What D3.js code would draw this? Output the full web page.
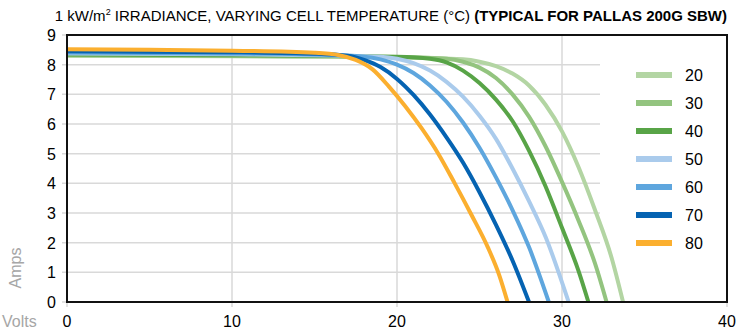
<!DOCTYPE html>
<html>
<head>
<meta charset="utf-8">
<script src="https://cdn.jsdelivr.net/npm/d3@7"></script>
<style>
  body { margin: 0; background: #fff; }
  svg { display: block; font-family: "Liberation Sans", Arial, sans-serif; }
</style>
</head>
<body>
<div class="viz"></div>
<script>
var width = 736,
    height = 333;

var margin = {top: 35, right: 9, bottom: 31, left: 67};

// temperatures (°C) and their colours
var temps = ['20', '30', '40', '50', '60', '70', '80'];
var colors = ['#b3d5a3', '#93c47f', '#58a447', '#aacbec', '#5ea6de', '#0563b2', '#fbaf2f'];

// [volts, amps]
var curve20 = [[0,8.30],[10,8.28],[15,8.27],[20,8.25],[24,8.18],[25,8.1],[26,7.95],[27,7.7],[28,7.3],[29,6.65],[30,5.75],[31,4.55],[32,3.1],[33,1.5],[33.7,0]];
var curve30 = [[0,8.32],[10,8.30],[15,8.28],[20,8.26],[23,8.2],[24,8.1],[25,7.9],[26,7.55],[27,7.0],[28,6.25],[29,5.25],[30,4.05],[31,2.75],[32,1.3],[32.7,0]];
var curve40 = [[0,8.34],[10,8.32],[15,8.30],[20,8.27],[22,8.2],[23,8.08],[24,7.8],[25,7.38],[26,6.82],[27,6.1],[28,5.1],[29,3.9],[30,2.5],[31,1.05],[31.6,0]];
var curve50 = [[0,8.38],[10,8.35],[15,8.32],[19,8.27],[20,8.2],[21,8.05],[22,7.8],[23,7.42],[24,6.92],[25,6.28],[26,5.5],[27,4.5],[28,3.4],[29,2.2],[30.4,0]];
var curve60 = [[0,8.41],[10,8.38],[15,8.34],[18,8.27],[19,8.18],[20,8.0],[21,7.72],[22,7.3],[23,6.75],[24,6.05],[25,5.2],[26,4.2],[27,3.1],[28,1.85],[29.2,0]];
var curve70 = [[0,8.45],[10,8.42],[15,8.37],[17,8.3],[18,8.16],[19,7.92],[20,7.52],[21,6.98],[22,6.32],[23,5.55],[24,4.7],[25,3.7],[26,2.6],[27,1.4],[28,0]];
var curve80 = [[0,8.52],[5,8.50],[10,8.47],[15,8.40],[16.5,8.32],[17.5,8.16],[18.5,7.85],[19.5,7.27],[20.5,6.6],[21.5,5.85],[22.5,5.0],[23.5,4.0],[24.5,2.95],[25.5,1.85],[26.2,0.9],[26.7,0]];

var curves = [curve20, curve30, curve40, curve50, curve60, curve70, curve80];

var xTicks = [0, 10, 20, 30, 40];
var yTicks = [0, 1, 2, 3, 4, 5, 6, 7, 8, 9];

var title = '1 kW/m';
var titleRest = ' IRRADIANCE, VARYING CELL TEMPERATURE (°C) ';
var titleBold = '(TYPICAL FOR PALLAS 200G SBW)';

var svg = d3.select('.viz').append('svg')
  .attr('width', width)
  .attr('height', height);

var x = d3.scaleLinear().domain([0, 40]).range([margin.left, width - margin.right]);
var y = d3.scaleLinear().domain([0, 9]).range([height - margin.bottom, margin.top]);

var legendX = 600;

/* grid */
svg.append('g').selectAll('line')
  .data(yTicks.filter(function(d){ return d > 0 && d < 9; }))
  .enter().append('line')
  .attr('x1', margin.left - 5).attr('x2', legendX)
  .attr('y1', function(d){ return y(d); }).attr('y2', function(d){ return y(d); })
  .attr('stroke', '#d9d9d9').attr('stroke-width', 1.5);

svg.append('g').selectAll('line')
  .data(yTicks.filter(function(d){ return d === 0 || d === 9; }))
  .enter().append('line')
  .attr('x1', margin.left - 5).attr('x2', margin.left)
  .attr('y1', function(d){ return y(d); }).attr('y2', function(d){ return y(d); })
  .attr('stroke', '#d9d9d9').attr('stroke-width', 1.5);

svg.append('g').selectAll('line')
  .data(xTicks)
  .enter().append('line')
  .attr('x1', function(d){ return x(d); }).attr('x2', function(d){ return x(d); })
  .attr('y1', function(d){ return (d > 0 && d < 40) ? y(9) : y(0); })
  .attr('y2', y(0) + 5)
  .attr('stroke', '#d9d9d9').attr('stroke-width', 1.5);

// legend background hides the grid on the right
svg.append('rect')
  .attr('x', legendX).attr('y', 56)
  .attr('width', x(40) - legendX - 1).attr('height', 204)
  .attr('fill', '#fff');

/* curves */
var line = d3.line()
  .x(function(d){ return x(d[0]); })
  .y(function(d){ return y(d[1]); })
  .curve(d3.curveMonotoneX);

svg.append('g').selectAll('path')
  .data(curves)
  .enter().append('path')
  .attr('d', line)
  .attr('fill', 'none')
  .attr('stroke', function(d, i){ return colors[i]; })
  .attr('stroke-width', 4)
  .attr('stroke-linejoin', 'round');

/* frame */
svg.append('rect')
  .attr('x', x(0)).attr('y', y(9))
  .attr('width', x(40) - x(0)).attr('height', y(0) - y(9))
  .attr('fill', 'none').attr('stroke', '#111').attr('stroke-width', 2);

/* tick labels */
svg.append('g').selectAll('text')
  .data(yTicks)
  .enter().append('text')
  .attr('x', margin.left - 11)
  .attr('y', function(d){ return y(d) + 6; })
  .attr('text-anchor', 'end')
  .attr('font-size', 16)
  .text(function(d){ return d; });

svg.append('g').selectAll('text')
  .data(xTicks)
  .enter().append('text')
  .attr('x', function(d){ return x(d); })
  .attr('y', 327)
  .attr('text-anchor', 'middle')
  .attr('font-size', 16)
  .text(function(d){ return d; });

svg.append('text')
  .attr('transform', 'translate(21,' + 268 + ') rotate(-90)')
  .attr('text-anchor', 'middle')
  .attr('font-size', 16)
  .attr('fill', '#a6a6a6')
  .text('Amps');

svg.append('text')
  .attr('x', 2).attr('y', 327)
  .attr('font-size', 16)
  .attr('fill', '#a6a6a6')
  .text('Volts');

/* title */
var t = svg.append('text')
  .attr('x', 727).attr('y', 21)
  .attr('text-anchor', 'end')
  .attr('font-size', 15);
t.append('tspan').text(title);
t.append('tspan').attr('font-size', 9).attr('dy', -6).text('2');
t.append('tspan').attr('dy', 6).text(titleRest);
t.append('tspan').attr('font-weight', 'bold').text(titleBold);

/* legend */
var legend = svg.append('g').selectAll('g')
  .data(temps)
  .enter().append('g')
  .attr('transform', function(d, i){ return 'translate(636,' + (75 + i * 28) + ')'; });

legend.append('line')
  .attr('x1', 0).attr('x2', 36)
  .attr('stroke', function(d, i){ return colors[i]; })
  .attr('stroke-width', 6);

legend.append('text')
  .attr('x', 49).attr('y', 6)
  .attr('font-size', 16)
  .text(function(d){ return d; });
</script>
</body>
</html>
